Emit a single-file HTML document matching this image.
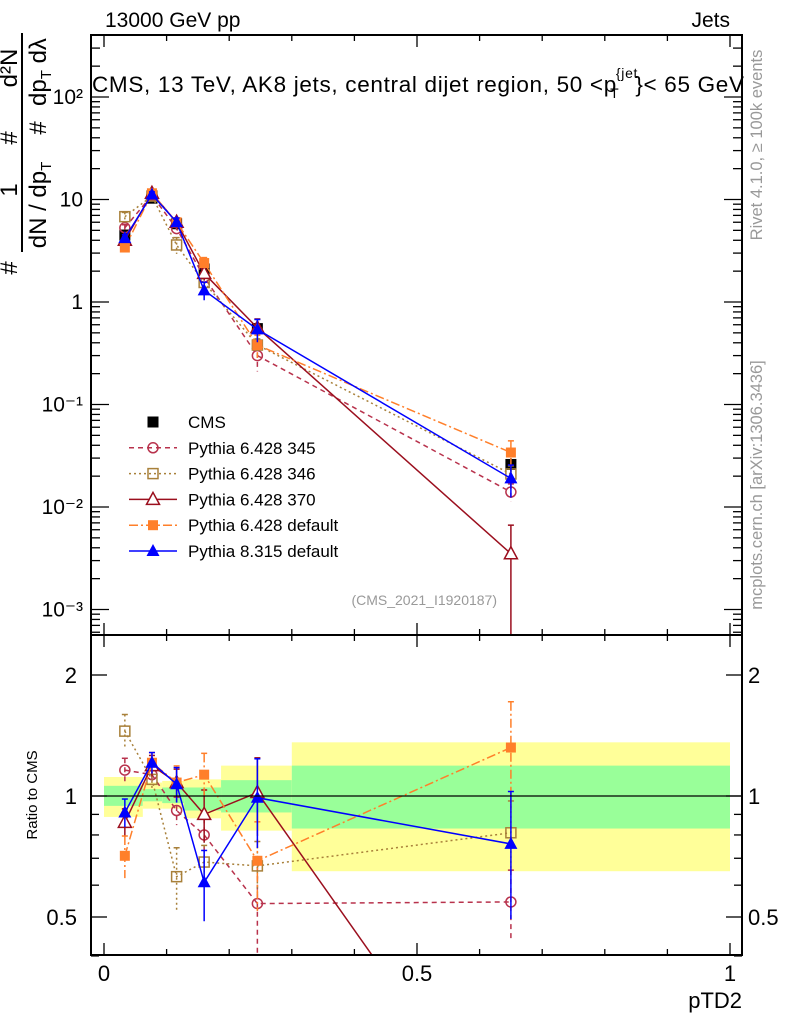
<!DOCTYPE html>
<html><head><meta charset="utf-8"><style>
html,body{margin:0;background:#fff;overflow:hidden;width:786px;height:1024px}
svg{display:block;font-family:"Liberation Sans",sans-serif}
</style></head><body>
<svg id="chart" width="786" height="1024" viewBox="0 0 786 1024">
<defs>
<clipPath id="cm"><rect x="91" y="35" width="651" height="600"/></clipPath>
<clipPath id="cr"><rect x="91" y="635" width="651" height="320"/></clipPath>
</defs>
<g id="bands" clip-path="url(#cr)"></g>
<g id="marks"></g>
<g id="axes"></g>
<text x="105" y="27" font-size="21">13000 GeV pp</text>
<text x="730" y="27" font-size="21" text-anchor="end">Jets</text>
<text x="92" y="92" font-size="22.5" textLength="652">CMS, 13 TeV, AK8 jets, central dijet region, 50 &lt;p<tspan font-size="14" dx="-1" dy="-14">{jet</tspan><tspan font-size="14" dx="-28" dy="20">T</tspan><tspan dx="16" dy="-6">}&lt; 65 GeV</tspan></text>
<text x="497" y="605" font-size="14" fill="#999" text-anchor="end">(CMS_2021_I1920187)</text>
<text transform="translate(762,145) rotate(-90)" font-size="16.5" fill="#999" text-anchor="middle">Rivet 4.1.0, ≥ 100k events</text>
<text transform="translate(762,485) rotate(-90)" font-size="16.5" fill="#999" text-anchor="middle">mcplots.cern.ch [arXiv:1306.3436]</text>
<g font-size="24">
<line x1="22" y1="33" x2="22" y2="252" stroke="#000" stroke-width="2"/>
<text transform="translate(17,268) rotate(-90)" text-anchor="middle">#</text>
<text transform="translate(17,190) rotate(-90)" text-anchor="middle">1</text>
<text transform="translate(17,138) rotate(-90)" text-anchor="middle">#</text>
<text transform="translate(17,68) rotate(-90)" text-anchor="middle">d²N</text>
<text transform="translate(46,205) rotate(-90)" text-anchor="middle">dN / dp<tspan font-size="15" dy="5">T</tspan></text>
<text transform="translate(46,128) rotate(-90)" text-anchor="middle">#</text>
<text transform="translate(46,72) rotate(-90)" text-anchor="middle">dp<tspan font-size="15" dy="5">T</tspan><tspan dy="-5"> dλ</tspan></text>
</g>
<text transform="translate(37,795) rotate(-90)" font-size="15" text-anchor="middle">Ratio to CMS</text>
<text x="742" y="1008" font-size="22" text-anchor="end">pTD2</text>
<g id="legend"></g>
</svg>
<script>
const xVals=[0.0333,0.0766,0.116,0.16,0.245,0.65];
const binEdges=[0,0.062,0.093,0.128,0.187,0.3,1];
const yellowHi=[1.115,1.08,1.09,1.10,1.19,1.36];
const yellowLo=[0.887,0.93,0.93,0.88,0.82,0.65];
const greenHi=[1.06,1.04,1.05,1.05,1.095,1.19];
const greenLo=[0.945,0.97,0.96,0.92,0.91,0.83];
const cmsVals=[4.5,10.3,5.8,2.1,0.55,0.026];
const cmsErr=[0.05,0.04,0.05,0.06,0.1,0.15];
const p345=[5.3,11.0,5.2,1.75,0.3,0.014];
const p346=[6.8,10.8,3.6,1.55,0.38,0.021];
const p370=[4.0,11.5,6.0,1.9,0.56,0.0035];
const pDef=[3.4,11.5,6.0,2.4,0.38,0.034];
const p8=[4.2,11.2,6.0,1.3,0.54,0.019];
const r345=[1.16,1.13,0.92,0.80,0.54,0.545];
const r346=[1.45,1.10,0.63,0.685,0.67,0.81];
const r370=[0.86,1.19,1.08,0.90,1.02,0.13];
const rDef=[0.71,1.21,1.08,1.13,0.69,1.32];
const r8=[0.91,1.21,1.07,0.61,0.99,0.76];
const e345=[0.07,0.05,0.08,0.1,0.3,0.2];
const e346=[0.1,0.05,0.18,0.1,0.15,0.2];
const e370=[0.08,0.06,0.08,0.15,0.22,0.9];
const eDef=[0.12,0.06,0.1,0.13,0.25,0.3];
const e8=[0.08,0.06,0.1,0.2,0.25,0.35];
const legendLabels=["CMS","Pythia 6.428 345","Pythia 6.428 346","Pythia 6.428 370","Pythia 6.428 default","Pythia 8.315 default"];
const mainTickLabels=["10⁻³","10⁻²","10⁻¹","1","10","10²"];
const ratioTicks=[0.5,1,2];
const xTicks=[0,0.5,1];

const NS="http://www.w3.org/2000/svg";
const X=v=>104+626*v;
const YM=v=>302-102.5*Math.log10(v);
const YR=r=>796-121*Math.log2(r);
function mk(tag,attrs,parent){const e=document.createElementNS(NS,tag);for(const k in attrs)e.setAttribute(k,attrs[k]);parent.appendChild(e);return e;}
const bands=document.getElementById('bands'),marks=document.getElementById('marks'),axes=document.getElementById('axes'),legend=document.getElementById('legend');

for(let i=0;i<binEdges.length-1;i++){
 const x1=X(binEdges[i]),x2=X(binEdges[i+1]);
 const y=mk('rect',{x:x1,y:YR(yellowHi[i]),width:x2-x1,height:YR(yellowLo[i])-YR(yellowHi[i]),fill:'#ffff99'},bands);
 
 
 const g=mk('rect',{x:x1,y:YR(greenHi[i]),width:x2-x1,height:YR(greenLo[i])-YR(greenHi[i]),fill:'#99ff99'},bands);
 
 
}
const one=mk('line',{x1:91,x2:742,y1:YR(1),y2:YR(1),stroke:'#000','stroke-width':1.3},axes);



const series=[
 {name:'pythia-6428-345',main:p345,ratio:r345,err:e345,color:'#b8324c',dash:'5,4',marker:'circle'},
 {name:'pythia-6428-346',main:p346,ratio:r346,err:e346,color:'#a8803a',dash:'2,3',marker:'osquare'},
 {name:'pythia-6428-370',main:p370,ratio:r370,err:e370,color:'#9b0f1e',dash:'',marker:'otri'},
 {name:'pythia-6428-default',main:pDef,ratio:rDef,err:eDef,color:'#ff7f2a',dash:'9,3,2,3',marker:'fsquare'},
 {name:'pythia-8315-default',main:p8,ratio:r8,err:e8,color:'#0000ff',dash:'',marker:'ftri'}
];
function marker(type,x,y,color,parent){
 let e;
 if(type==='circle')e=mk('circle',{cx:x,cy:y,r:5,fill:'none',stroke:color,'stroke-width':1.5},parent);
 else if(type==='osquare')e=mk('rect',{x:x-5,y:y-5,width:10,height:10,fill:'none',stroke:color,'stroke-width':1.5},parent);
 else if(type==='fsquare')e=mk('rect',{x:x-5,y:y-5,width:10,height:10,fill:color},parent);
 else if(type==='bsquare')e=mk('rect',{x:x-5.5,y:y-5.5,width:11,height:11,fill:color},parent);
 else if(type==='otri')e=mk('polygon',{points:`${x},${y-7} ${x-6.5},${y+5} ${x+6.5},${y+5}`,fill:'#fff',stroke:color,'stroke-width':1.5},parent);
 else e=mk('polygon',{points:`${x},${y-7} ${x-6.5},${y+5} ${x+6.5},${y+5}`,fill:color},parent);
 return e;
}
function drawPanel(clip,Y,getVals,isMain){
 const g=mk('g',{'clip-path':`url(#${clip})`},marks);
 if(isMain){
  xVals.forEach((xv,i)=>{
   const v=cmsVals[i];
   mk('line',{x1:X(xv),x2:X(xv),y1:Y(v*(1+cmsErr[i])),y2:Y(v*(1-cmsErr[i])),stroke:'#000','stroke-width':1.5},g);
   const m=marker('bsquare',X(xv),Y(v),'#000',g);
   
   
  });
 }
 series.forEach(s=>{
  const vals=getVals(s);
  const pts=xVals.map((xv,i)=>`${X(xv)},${Y(vals[i])}`).join(' ');
  const l=mk('polyline',{points:pts,fill:'none',stroke:s.color,'stroke-width':1.5,'stroke-dasharray':s.dash},g);
  
  
  xVals.forEach((xv,i)=>{
   const v=vals[i],lo=Math.max(v*(1-s.err[i]),1e-6);
   mk('line',{x1:X(xv),x2:X(xv),y1:Y(v*(1+s.err[i])),y2:Y(lo),stroke:s.color,'stroke-width':1.5,'stroke-dasharray':s.dash},g);
   mk('line',{x1:X(xv)-3,x2:X(xv)+3,y1:Y(v*(1+s.err[i])),y2:Y(v*(1+s.err[i])),stroke:s.color,'stroke-width':1.5},g);
   const m=marker(s.marker,X(xv),Y(v),s.color,g);
   
   
  });
 });
}
drawPanel('cm',YM,s=>s.main,true);
drawPanel('cr',YR,s=>s.ratio,false);

const f1=mk('rect',{x:91,y:35,width:651,height:600,fill:'none',stroke:'#000','stroke-width':2},axes);


const f2=mk('rect',{x:91,y:635,width:651,height:320,fill:'none',stroke:'#000','stroke-width':2},axes);


for(let k=0;k<=10;k++){
 const v=k/10,x=X(v),len=(k%5===0)?12:6;
 [[35,1],[635,-1],[635,1],[955,-1]].forEach(([y0,d])=>mk('line',{x1:x,x2:x,y1:y0,y2:y0+d*len,stroke:'#000','stroke-width':1.3},axes));
}
xTicks.forEach(v=>{
 const t=mk('text',{x:X(v),y:981,'font-size':22,'text-anchor':'middle'},axes);
 t.textContent=String(v);
 
 
});
for(let d=-4;d<=2;d++){
 for(let m=1;m<=9;m++){
  const v=m*Math.pow(10,d),y=YM(v);
  if(y<35||y>635)continue;
  const len=m===1?18:9;
  mk('line',{x1:91,x2:91+len,y1:y,y2:y,stroke:'#000','stroke-width':1.3},axes);
  mk('line',{x1:742,x2:742-len,y1:y,y2:y,stroke:'#000','stroke-width':1.3},axes);
 }
}
mainTickLabels.forEach((lab,i)=>{
 const t=mk('text',{x:83,y:YM(Math.pow(10,i-3))+7,'font-size':21,'text-anchor':'end'},axes);
 t.textContent=lab;
 
 
});
[0.4,0.5,0.6,0.7,0.8,0.9,1,2].forEach(r=>{
 const y=YR(r);const len=(r===0.5||r===1||r===2)?16:8;
 mk('line',{x1:91,x2:91+len,y1:y,y2:y,stroke:'#000','stroke-width':1.3},axes);
 mk('line',{x1:742,x2:742-len,y1:y,y2:y,stroke:'#000','stroke-width':1.3},axes);
});
ratioTicks.forEach(r=>{
 const t=mk('text',{x:77,y:YR(r)+8,'font-size':22,'text-anchor':'end'},axes);
 t.textContent=String(r);
 
 
 const t2=mk('text',{x:748,y:YR(r)+8,'font-size':22},axes);
 t2.textContent=String(r);
 
 
});
legendLabels.forEach((lab,i)=>{
 const y=422+i*25.8;
 const g=mk('g',{},legend);
 
 
 if(i===0){marker('bsquare',153,y,'#000',g);}
 else{
  const s=series[i-1];
  mk('line',{x1:129,x2:177,y1:y,y2:y,stroke:s.color,'stroke-width':1.5,'stroke-dasharray':s.dash},g);
  marker(s.marker,153,y,s.color,g);
 }
 const t=mk('text',{x:188,y:y+6,'font-size':17},g);
 t.textContent=lab;
});
</script>
</body></html>
